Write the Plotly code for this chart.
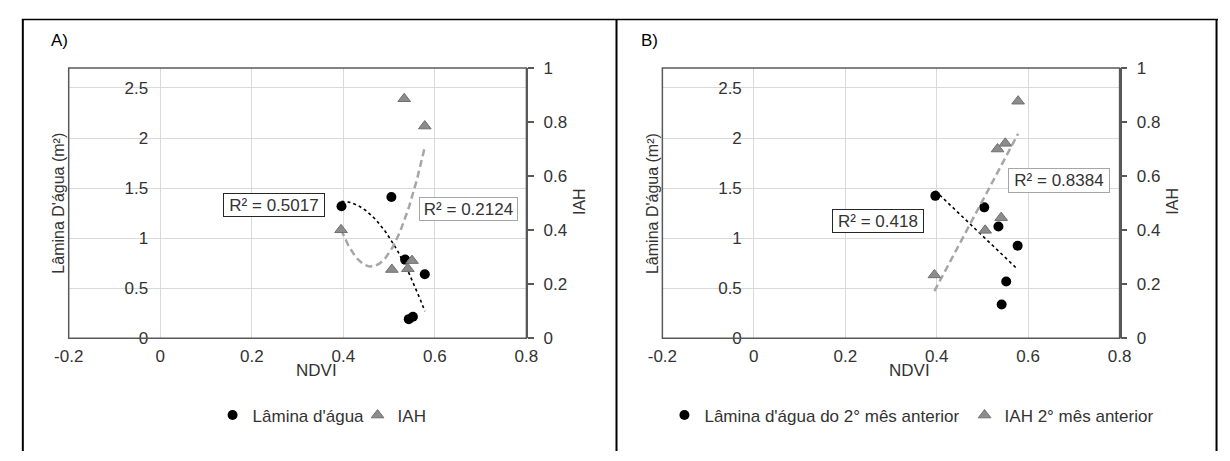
import numpy as np
import plotly.graph_objects as go

W, H = 1230, 461

# ---------------- data ----------------
# Panel A
ndvi_a_lam = [0.396, 0.505, 0.535, 0.578, 0.543, 0.552]
lam_a = [1.318, 1.410, 0.785, 0.638, 0.190, 0.214]
ndvi_a_iah = [0.533, 0.578, 0.395, 0.506, 0.550, 0.541]
iah_a = [0.886, 0.785, 0.401, 0.254, 0.287, 0.257]

# Panel B
ndvi_b_lam = [0.397, 0.504, 0.535, 0.577, 0.552, 0.542]
lam_b = [1.422, 1.307, 1.116, 0.924, 0.567, 0.337]
ndvi_b_iah = [0.578, 0.550, 0.533, 0.541, 0.506, 0.395]
iah_b = [0.877, 0.721, 0.700, 0.446, 0.399, 0.234]

r2_labels = ["R² = 0.5017", "R² = 0.2124", "R² = 0.418", "R² = 0.8384"]
legend_a = ["Lâmina d'água", "IAH"]
legend_b = ["Lâmina d'água do 2° mês anterior", "IAH 2° mês anterior"]
panel_titles = ["A)", "B)"]

x_tickvals = [-0.2, 0, 0.2, 0.4, 0.6, 0.8]
x_ticktext = ["-0.2", "0", "0.2", "0.4", "0.6", "0.8"]
y_tickvals = [0, 0.5, 1, 1.5, 2, 2.5]
y_ticktext = ["0", "0.5", "1", "1.5", "2", "2.5"]
y2_tickvals = [0, 0.2, 0.4, 0.6, 0.8, 1]
y2_ticktext = ["0", "0.2", "0.4", "0.6", "0.8", "1"]

# ---------------- helpers ----------------
def px(x):
    return x / W

def py(y):
    return 1 - y / H

FONT = "Liberation Sans, Arial, sans-serif"
TXT = "#333333"
AX = "#595959"
GRID = "#d9d9d9"
TRI_FILL = "#8c8c8c"
TRI_LINE = "#6f6f6f"
TREND_GRAY = "#a6a6a6"


def trend(xs, ys, deg):
    c = np.polyfit(xs, ys, deg)
    xx = np.linspace(min(xs), max(xs), 60)
    return xx, np.polyval(c, xx)


fig = go.Figure()

# Panel A markers and trendlines
xx, yy = trend(ndvi_a_lam, lam_a, 2)
fig.add_trace(go.Scatter(x=xx, y=yy, mode="lines", xaxis="x", yaxis="y",
                         line=dict(color="#000000", width=1.6, dash="dot"),
                         showlegend=False, hoverinfo="skip"))
xx, yy = trend(ndvi_a_iah, iah_a, 2)
fig.add_trace(go.Scatter(x=xx, y=yy, mode="lines", xaxis="x", yaxis="y2",
                         line=dict(color=TREND_GRAY, width=2.5, dash="7px,4px"),
                         showlegend=False, hoverinfo="skip"))
fig.add_trace(go.Scatter(x=ndvi_a_lam, y=lam_a, mode="markers", name=legend_a[0],
                         xaxis="x", yaxis="y", legend="legend",
                         marker=dict(symbol="circle", size=10, color="#000000")))
fig.add_trace(go.Scatter(x=ndvi_a_iah, y=iah_a, mode="markers", name=legend_a[1],
                         xaxis="x", yaxis="y2", legend="legend",
                         marker=dict(symbol="triangle-up", size=11, color=TRI_FILL,
                                     line=dict(color=TRI_LINE, width=1))))

# Panel B markers and trendlines
xx, yy = trend(ndvi_b_lam, lam_b, 1)
fig.add_trace(go.Scatter(x=xx, y=yy, mode="lines", xaxis="x2", yaxis="y3",
                         line=dict(color="#000000", width=1.6, dash="dot"),
                         showlegend=False, hoverinfo="skip"))
xx, yy = trend(ndvi_b_iah, iah_b, 1)
fig.add_trace(go.Scatter(x=xx, y=yy, mode="lines", xaxis="x2", yaxis="y4",
                         line=dict(color=TREND_GRAY, width=2.5, dash="7px,4px"),
                         showlegend=False, hoverinfo="skip"))
fig.add_trace(go.Scatter(x=ndvi_b_lam, y=lam_b, mode="markers", name=legend_b[0],
                         xaxis="x2", yaxis="y3", legend="legend2",
                         marker=dict(symbol="circle", size=10, color="#000000")))
fig.add_trace(go.Scatter(x=ndvi_b_iah, y=iah_b, mode="markers", name=legend_b[1],
                         xaxis="x2", yaxis="y4", legend="legend2",
                         marker=dict(symbol="triangle-up", size=11, color=TRI_FILL,
                                     line=dict(color=TRI_LINE, width=1))))

# ---------------- layout geometry ----------------
Y_TOP, Y_BOT = 61.5, 343.3
A_L, A_R = 54.9, 522.9     # x=-0.2 .. 0.8
B_L, B_R = 661.9, 1129.4
ydom = [py(Y_BOT), py(Y_TOP)]


def zero_pos(l, r):
    return px(l + (r - l) * 0.2)


def xaxis_cfg(l, r):
    return dict(domain=[px(l), px(r)], range=[-0.2, 0.8], tickmode="array",
                tickvals=x_tickvals, ticktext=x_ticktext, showgrid=True,
                gridcolor=GRID, gridwidth=1, zeroline=False, showline=False,
                ticks="", ticklabelstandoff=6, fixedrange=True,
                tickfont=dict(size=17, color=TXT, family=FONT))


def yaxis_cfg(pos):
    return dict(domain=ydom, range=[0, 2.7], anchor="free", position=pos,
                tickmode="array", tickvals=y_tickvals, ticktext=y_ticktext,
                showgrid=True, gridcolor=GRID, gridwidth=1, zeroline=False,
                showline=False, ticks="", ticklabelstandoff=12,
                tickfont=dict(size=17, color=TXT, family=FONT))


def y2axis_cfg(overlay, anchor):
    return dict(domain=ydom, range=[0, 1], overlaying=overlay, anchor=anchor,
                side="right", tickmode="array", tickvals=y2_tickvals,
                ticktext=y2_ticktext, showgrid=False, zeroline=False,
                showline=True, linecolor=AX, linewidth=1.5, ticks="outside",
                ticklen=6, tickwidth=1.5, tickcolor=AX, ticklabelstandoff=6,
                tickfont=dict(size=17, color=TXT, family=FONT))


shapes = []
# plot-area boxes
for xr, yr in (("x domain", "y domain"), ("x2 domain", "y3 domain")):
    shapes.append(dict(type="rect", xref=xr, yref=yr, x0=0, x1=1, y0=0, y1=1,
                       line=dict(color=AX, width=1.5), layer="above"))
# outer table frame
shapes.append(dict(type="line", xref="paper", yref="paper", x0=px(7), x1=1,
                   y0=py(11), y1=py(11), line=dict(color="#000000", width=1.5)))
for xv in (8, 615, 1228.5):
    shapes.append(dict(type="line", xref="paper", yref="paper", x0=px(xv), x1=px(xv),
                       y0=py(11), y1=0, line=dict(color="#000000", width=2)))

annotations = []


def text_ann(t, x, y, size=17, angle=0, color=TXT):
    annotations.append(dict(text=t, xref="paper", yref="paper", x=px(x), y=py(y),
                            xanchor="center", yanchor="middle", showarrow=False,
                            textangle=angle, font=dict(size=size, color=color, family=FONT)))


def r2_ann(t, x, y, w, h, border):
    annotations.append(dict(text=t, xref="paper", yref="paper", x=px(x), y=py(y),
                            xanchor="center", yanchor="middle", showarrow=False,
                            width=w, height=h, borderpad=0, borderwidth=1,
                            bordercolor=border, bgcolor="#ffffff",
                            font=dict(size=17, color=TXT, family=FONT)))


text_ann(panel_titles[0], 45, 33, color="#000000")
text_ann(panel_titles[1], 649, 33, color="#000000")
text_ann("NDVI", 308.5, 377)
text_ann("NDVI", 915, 377)
text_ann("Lâmina D'água (m²)", 45, 203, size=16, angle=-90)
text_ann("Lâmina D'água (m²)", 651.7, 203, size=16, angle=-90)
text_ann("IAH", 577, 201, size=16, angle=-90)
text_ann("IAH", 1184, 201, size=16, angle=-90)

r2_ann(r2_labels[0], 265.3, 204, 100, 22, "#262626")
r2_ann(r2_labels[1], 463.7, 209, 97, 22, "#a6a6a6")
r2_ann(r2_labels[2], 882, 221.3, 90, 22, "#262626")
r2_ann(r2_labels[3], 1067, 178.5, 100, 23, "#a6a6a6")

legend_common = dict(orientation="h", xanchor="left", yanchor="middle",
                     font=dict(size=17, color=TXT, family=FONT), itemwidth=30,
                     bgcolor="rgba(0,0,0,0)", borderwidth=0, tracegroupgap=0)

fig.update_layout(
    width=W, height=H,
    margin=dict(l=0, r=0, t=0, b=0, pad=0),
    paper_bgcolor="#ffffff", plot_bgcolor="#ffffff",
    font=dict(family=FONT, size=17, color=TXT),
    xaxis=dict(anchor="y", **xaxis_cfg(A_L, A_R)),
    yaxis=yaxis_cfg(zero_pos(A_L, A_R)),
    yaxis2=y2axis_cfg("y", "x"),
    xaxis2=dict(anchor="y3", **xaxis_cfg(B_L, B_R)),
    yaxis3=yaxis_cfg(zero_pos(B_L, B_R)),
    yaxis4=y2axis_cfg("y3", "x2"),
    legend=dict(x=px(225 - 23), y=py(424), entrywidth=100, **legend_common),
    legend2=dict(x=px(687 - 23), y=py(424), **legend_common),
    shapes=shapes,
    annotations=annotations,
    showlegend=True,
)

fig.write_html("out.html")
